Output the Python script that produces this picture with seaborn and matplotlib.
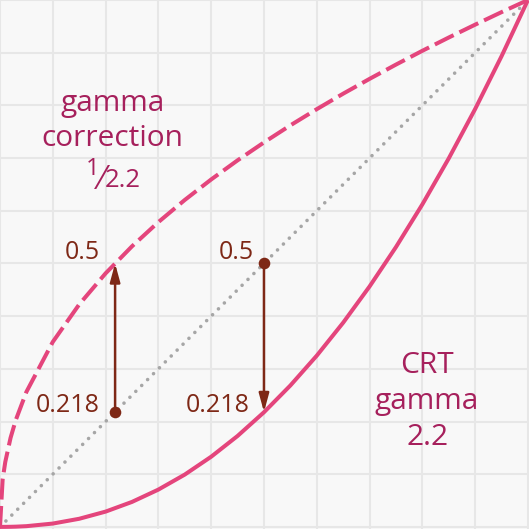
import matplotlib
matplotlib.use("Agg")
import matplotlib.pyplot as plt
import seaborn as sns
import pandas as pd

# ---- data ----
x_vals = [0.0, 0.005, 0.01, 0.02, 0.03, 0.05, 0.1, 0.15, 0.2, 0.25, 0.3, 0.35, 0.4, 0.45,
          0.5, 0.55, 0.6, 0.65, 0.7, 0.75, 0.8, 0.85, 0.9, 0.95, 1.0]
# CRT gamma 2.2 (solid)
crt_vals = [0.0, 0.00001, 0.00004, 0.00018, 0.00045, 0.00137, 0.00631, 0.0154, 0.029, 0.0474,
            0.0708, 0.0993, 0.1332, 0.1726, 0.2176, 0.2684, 0.325, 0.3876, 0.4563, 0.5311,
            0.6121, 0.6994, 0.7931, 0.8933, 1.0]
# gamma correction 1/2.2 (dashed)
corr_vals = [0.0, 0.09, 0.1233, 0.169, 0.2031, 0.2562, 0.3511, 0.4222, 0.4812, 0.5325,
             0.5785, 0.6205, 0.6594, 0.6957, 0.7297, 0.7621, 0.7928, 0.8222, 0.8503, 0.8774,
             0.9036, 0.9288, 0.9532, 0.977, 1.0]
diag_vals = [0.0, 1.0]

arrow_starts = [(0.218, 0.218), (0.5, 0.5)]
arrow_ends = [(0.218, 0.5), (0.5, 0.218)]
num_labels = ["0.5", "0.218", "0.5", "0.218"]
corr_label = ["gamma", "correction"]
frac_parts = ["1", "⁄", "2.2"]
crt_label = ["CRT", "gamma", "2.2"]

# ---- style ----
PINK = "#e4457c"
LABEL = "#a6205c"
BROWN = "#7e2816"
BG = "#f8f8f8"
GRID = "#e7e7e7"

sns.set_style("white")
plt.rcParams["font.family"] = ["Open Sans", "DejaVu Sans"]

fig = plt.figure(figsize=(5.29, 5.29), dpi=100)
fig.patch.set_facecolor(BG)
ax = fig.add_axes([0, 0, 1, 1])
ax.set_facecolor(BG)

ax.set_xlim(0.004, 1.002)
ax.set_ylim(-0.004, 0.996)
ax.set_xticks([i / 10 for i in range(11)])
ax.set_yticks([i / 10 for i in range(11)])
ax.grid(True, color=GRID, linewidth=1.5)
ax.tick_params(length=0, labelbottom=False, labelleft=False)
for s in ax.spines.values():
    s.set_visible(False)

df = pd.DataFrame({"x": x_vals, "crt": crt_vals, "corr": corr_vals})

# diagonal dotted
sns.lineplot(x=diag_vals, y=diag_vals, ax=ax, color="#a6a6a6", linewidth=2.6,
             linestyle=(0, (0.01, 2.3)), dash_capstyle="round", zorder=2)
# CRT solid
sns.lineplot(data=df, x="x", y="crt", ax=ax, color=PINK, linewidth=2.9, zorder=3,
             solid_capstyle="butt")
# correction dashed
sns.lineplot(data=df, x="x", y="corr", ax=ax, color=PINK, linewidth=2.9, zorder=3,
             linestyle=(0, (5.2, 1.6)), dash_capstyle="butt")

# arrows + dots
for (sx, sy), (ex, ey) in zip(arrow_starts, arrow_ends):
    ax.annotate("", xy=(ex, ey), xytext=(sx, sy),
                arrowprops=dict(arrowstyle="-|>,head_length=1.1,head_width=0.3",
                                mutation_scale=10, color=BROWN, lw=1.8,
                                shrinkA=0, shrinkB=0), zorder=4)
    ax.scatter([sx], [sy], s=70, color=BROWN, zorder=5, linewidths=0)

# numeric labels
num_pos = [(0.189, 0.508), (0.189, 0.218), (0.481, 0.508), (0.472, 0.218)]
for txt, (tx, ty) in zip(num_labels, num_pos):
    ax.text(tx, ty, txt, ha="right", va="baseline", color=BROWN, fontsize=18)

# curve labels
for txt, ty in zip(corr_label, [0.789, 0.723]):
    ax.text(0.213, ty, txt, ha="center", va="baseline", color=LABEL, fontsize=21.5)

# fraction 1/2.2 built from three adjacent pieces
renderer = fig.canvas.get_renderer()
slash = ax.text(0.194, 0.642, frac_parts[1], ha="center", va="baseline",
                color=LABEL, fontsize=23)
bb = slash.get_window_extent(renderer)
inv = ax.transData.inverted()
left_x = inv.transform((bb.x0 - 0.5, 0))[0]
right_x = inv.transform((bb.x1 + 0.5, 0))[0]
ax.text(left_x, 0.667, frac_parts[0], ha="right", va="baseline", color=LABEL, fontsize=17)
ax.text(right_x, 0.646, frac_parts[2], ha="left", va="baseline", color=LABEL, fontsize=18.5)

for txt, ty in zip(crt_label, [0.292, 0.224, 0.156]):
    ax.text(0.809, ty, txt, ha="center", va="baseline", color=LABEL, fontsize=21.5)

fig.savefig("out.png", dpi=100, facecolor=BG)
